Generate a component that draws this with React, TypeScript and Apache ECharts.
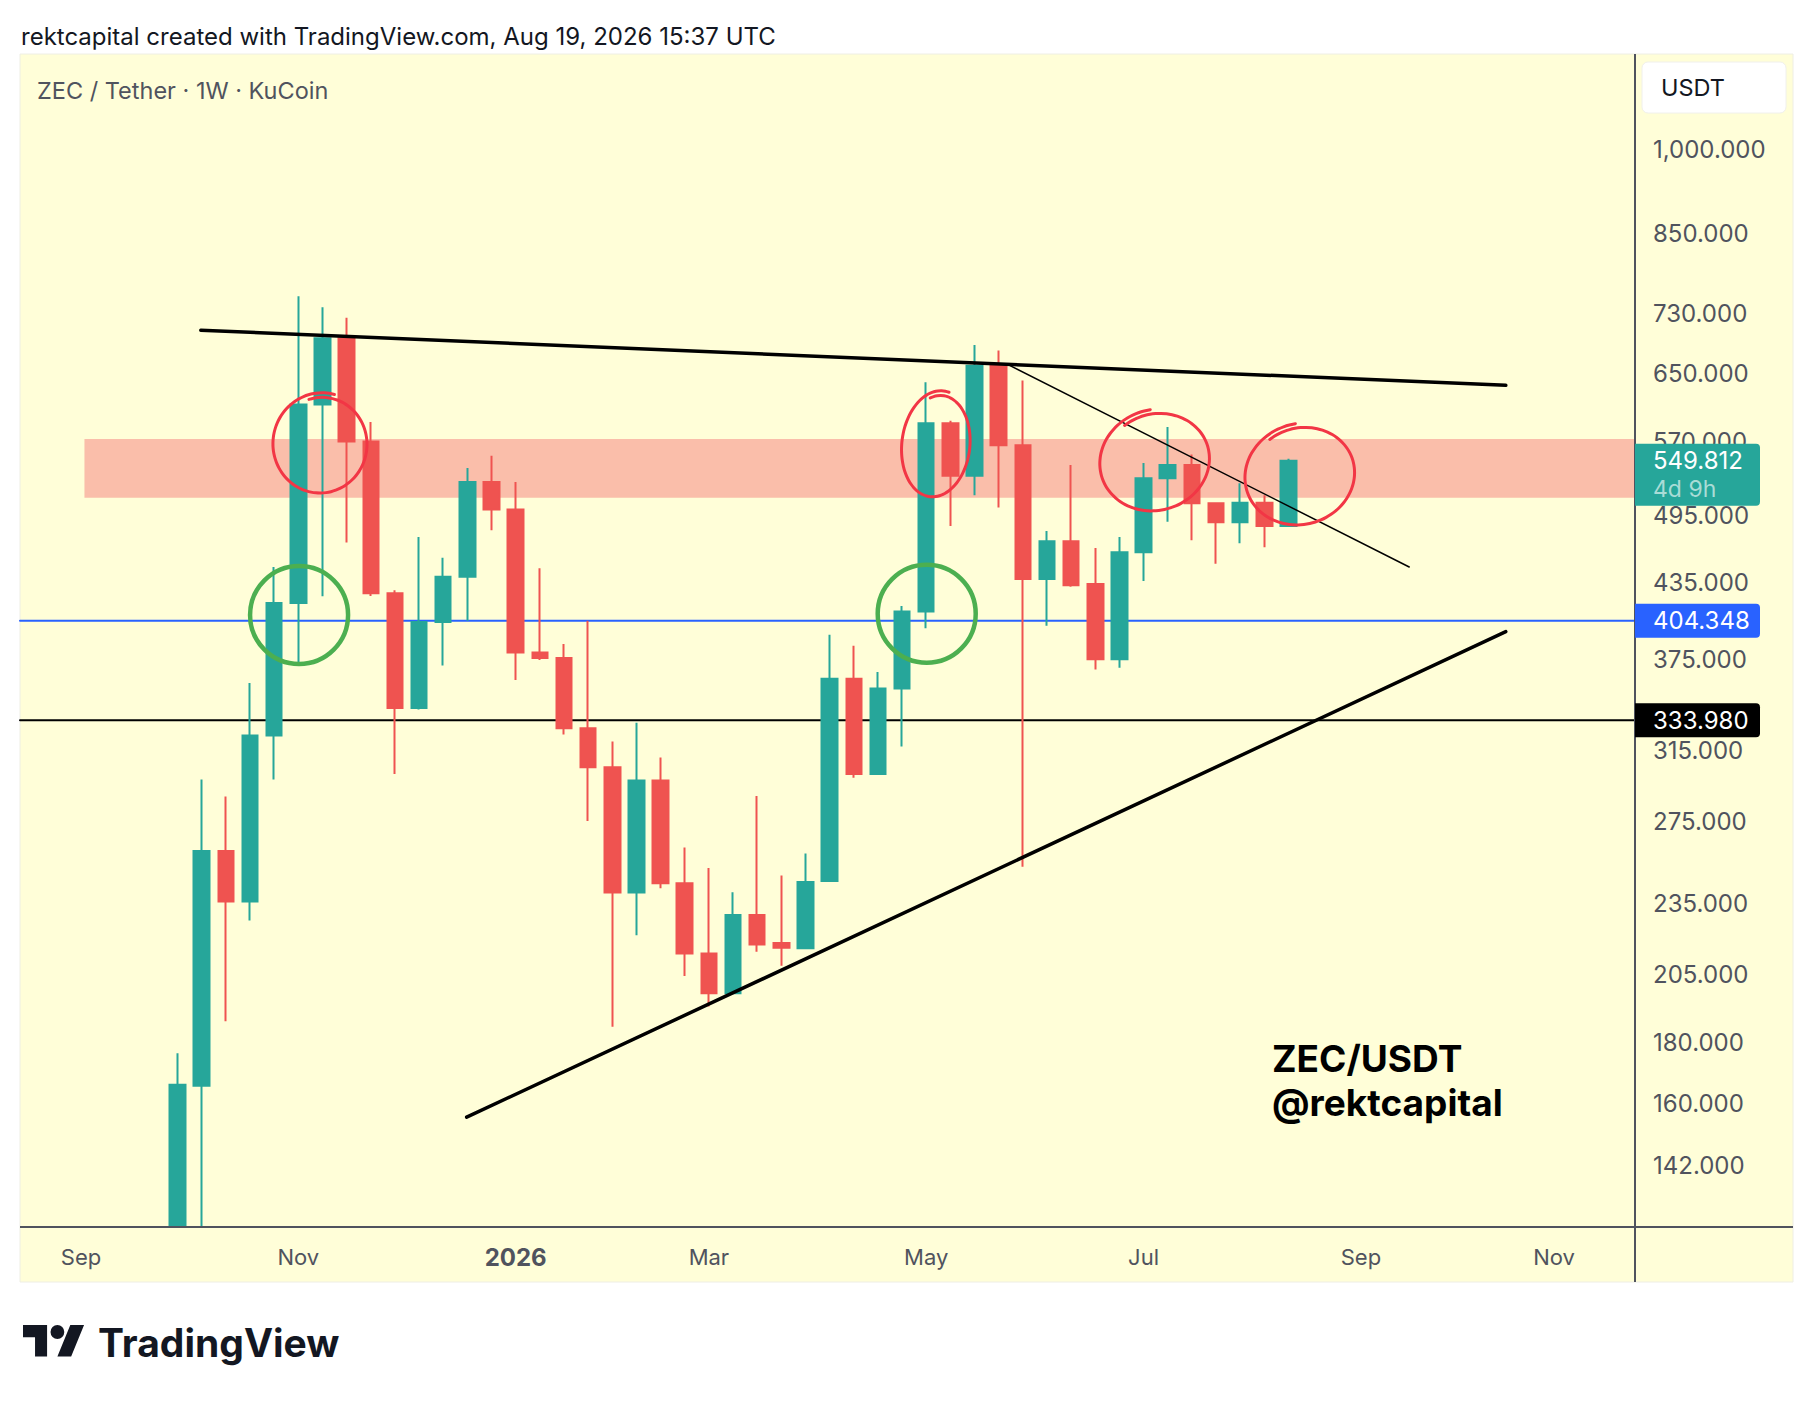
import React, { useEffect, useRef } from 'react';
import * as echarts from 'echarts';

// ---------- data ----------
const EPOCH = Date.UTC(2025, 8, 1); // Monday, Sep 1 2025 = week 0
const toWeek = (d: string) => (Date.parse(d + 'T00:00:00Z') - EPOCH) / (7 * 86400000);

const weeks = [
  '2025-09-29', '2025-10-06', '2025-10-13', '2025-10-20', '2025-10-27', '2025-11-03', '2025-11-10',
  '2025-11-17', '2025-11-24', '2025-12-01', '2025-12-08', '2025-12-15', '2025-12-22', '2025-12-29',
  '2026-01-05', '2026-01-12', '2026-01-19', '2026-01-26', '2026-02-02', '2026-02-09', '2026-02-16',
  '2026-02-23', '2026-03-02', '2026-03-09', '2026-03-16', '2026-03-23', '2026-03-30', '2026-04-06',
  '2026-04-13', '2026-04-20', '2026-04-27', '2026-05-04', '2026-05-11', '2026-05-18', '2026-05-25',
  '2026-06-01', '2026-06-08', '2026-06-15', '2026-06-22', '2026-06-29', '2026-07-06', '2026-07-13',
  '2026-07-20', '2026-07-27', '2026-08-03', '2026-08-10', '2026-08-17',
];
const opens = [
  70, 165.5, 259.8, 235.8, 324.3, 418.3, 612.6, 695.5, 570.4, 426.3, 341.9, 403.4, 440, 527.9,
  500.7, 380.3, 376.3, 328.9, 305.1, 239.9, 297.4, 244.2, 213.4, 197.7, 229.7, 217.7, 215.5, 245.2,
  361.7, 301.2, 355, 411.5, 590.8, 534.1, 660.5, 566.4, 438, 470.9, 433.9, 375.5, 461.1, 531.6,
  545.4, 506.6, 488.5, 507.2, 485,
];
const closes = [
  165.8, 259.8, 235.8, 324.3, 418.3, 612.6, 695.5, 570.4, 426.3, 341.9, 403.4, 440, 527.9, 500.7,
  380.3, 376.3, 328.9, 305.1, 239.9, 297.4, 244.2, 213.4, 197.7, 229.7, 217.1, 215.7, 244.8, 361.7,
  301.2, 355, 411.5, 590.8, 534.1, 659.7, 566.4, 438, 470.9, 432.9, 375.5, 461.1, 531.6, 545.4,
  506.6, 488.5, 507.2, 485, 549.812,
];
const lows = [
  66, 118, 187.3, 227.3, 298, 371.5, 423.8, 469.8, 424, 301.2, 341, 371, 404.3, 481,
  360.8, 375, 325, 275.2, 185.4, 221, 241.9, 204.3, 192.7, 197.7, 214.1, 208.4, 215.5, 245.2,
  299.1, 301.2, 317.5, 398.6, 485, 514.4, 502.5, 252, 400.5, 431.6, 368.1, 369.4, 436.4, 489,
  472, 451, 469.3, 465.5, 485,
];
const highs = [
  176.2, 298, 288.4, 358.7, 448.3, 754, 738.3, 723.7, 592.2, 428.8, 474.8, 456.4, 542.3, 555.2,
  527.9, 447.3, 386.6, 404.3, 320.6, 332.4, 310.9, 261.6, 251.4, 240, 288.7, 247.9, 258.6, 393.6,
  385.3, 366.4, 415.9, 639.2, 593.6, 686.6, 679.4, 641.5, 480.4, 545.4, 464.9, 474.8, 547.3, 586.7,
  556.5, 506.6, 526.6, 514.4, 551.9,
];

const priceTicks = [1000, 850, 730, 650, 570, 495, 435, 375, 315, 275, 235, 205, 180, 160, 142];
const monthTickDates = ['2025-09-01', '2025-11-03', '2026-01-05', '2026-03-02', '2026-05-04', '2026-07-06', '2026-09-07', '2026-11-02'];
const monthTickLabels = ['Sep', 'Nov', '2026', 'Mar', 'May', 'Jul', 'Sep', 'Nov'];

const lastPrice = 549.812;
const lastCountdown = '4d 9h';
const blueLevel = 404.348;
const blackLevel = 333.98;
const zoneStart = '2025-09-02';
const zoneHigh = 573.2;
const zoneLow = 512.1;

// trend lines: [week index, price]
const upperTrend = [[4.96, 706.4], [59.0, 635.5]];
const lowerTrend = [[15.97, 155.8], [59.0, 395.9]];
const thinTrend = [[38.33, 662.2], [55.0, 448.3]];
// annotation anchors: [week index, price]
const greenCircles = [[9.03, 408.8], [35.02, 409.8]];
const redCircles = [[9.94, 567.7], [35.43, 566.7], [44.51, 549.5], [50.52, 534.9]];

// ---------- layout / style ----------
const W = 1814;
const H = 1402;
const GRID_L = 20;
const GRID_R = 1635;
const GRID_T = 54;
const GRID_B = 1227;
const PANEL_R = 1793;
const PANEL_B = 1282;
const X_MIN = -2.526;
const X_MAX = 64.35;
const Y_MIN = Math.log(126.17);
const Y_MAX = Math.log(1200.9);
const FONT = 'Inter, "Noto Sans", sans-serif';
const UP = '#26A69A';
const DOWN = '#EF5350';
const AXIS_TEXT = '#50535E';

const redShapes = [
  { rx: 47, ry: 49, rot: 0.1 },
  { rx: 34, ry: 52, rot: 0.12 },
  { rx: 55, ry: 49, rot: -0.3 },
  { rx: 55, ry: 49, rot: -0.3 },
];

echarts.graphic.registerShape(
  'tvlogo',
  echarts.graphic.extendPath('M14 22H7V11H0V4h14v18zM28 22h-8l7.5-18h8L28 22zM24 8a4 4 0 1 1 -8 0a4 4 0 1 1 8 0z', {})
);

const fmtPrice = (v: number) =>
  v.toLocaleString('en-US', { minimumFractionDigits: 3, maximumFractionDigits: 3 });
// log price, held inside the visible window (the candlestick series does not clip partially)
const lp = (p: number) => Math.min(Math.max(Math.log(p), Y_MIN), Y_MAX);

function buildOption(): any {
  const candleData = weeks.map((d, i) => [toWeek(d), lp(opens[i]), lp(closes[i]), lp(lows[i]), lp(highs[i])]);
  const monthWeeks = monthTickDates.map(toWeek);
  const lineSeries = (name: string, pts: number[][], color: string, width: number, z: number) => ({
    name,
    type: 'line',
    data: pts.map(([x, p]) => [x, Math.log(p)]),
    symbol: 'none',
    silent: true,
    z,
    lineStyle: { color, width, cap: 'round' },
  });
  return {
    animation: false,
    backgroundColor: '#FFFFFF',
    textStyle: { fontFamily: FONT },
    grid: { left: GRID_L, right: W - GRID_R, top: GRID_T, bottom: H - GRID_B, containLabel: false },
    xAxis: {
      type: 'value',
      min: X_MIN,
      max: X_MAX,
      axisLine: { show: false },
      axisTick: { show: false },
      splitLine: { show: false },
      axisLabel: {
        customValues: monthWeeks,
        margin: 19,
        fontSize: 22,
        lineHeight: 22,
        color: AXIS_TEXT,
        fontFamily: FONT,
        formatter: (v: number) => {
          const i = monthWeeks.findIndex((m) => Math.abs(m - v) < 0.01);
          const t = i >= 0 ? monthTickLabels[i] : '';
          return /^\d{4}$/.test(t) ? '{b|' + t + '}' : t;
        },
        rich: { b: { fontWeight: 'bold', fontSize: 24, lineHeight: 22, color: AXIS_TEXT, fontFamily: FONT } },
      },
    },
    yAxis: {
      type: 'value',
      position: 'right',
      min: Y_MIN,
      max: Y_MAX,
      axisLine: { show: false },
      axisTick: { show: false },
      splitLine: { show: false },
      axisLabel: {
        customValues: priceTicks.map((p) => Math.log(p)),
        margin: 18,
        fontSize: 24,
        color: AXIS_TEXT,
        fontFamily: FONT,
        align: 'left',
        formatter: (v: number) => fmtPrice(Math.round(Math.exp(v))),
      },
    },
    series: [
      {
        name: 'zone',
        type: 'custom',
        z: 1,
        silent: true,
        clip: true,
        data: [[toWeek(zoneStart), Math.log(zoneHigh), Math.log(zoneLow)]],
        renderItem: (params: any, api: any) => {
          const a = api.coord([api.value(0), api.value(1)]);
          const b = api.coord([api.value(0), api.value(2)]);
          const right = params.coordSys.x + params.coordSys.width;
          return {
            type: 'rect',
            shape: { x: a[0], y: a[1], width: right - a[0], height: b[1] - a[1] },
            style: { fill: '#FABEAA' },
          };
        },
      },
      lineSeries('level-blue', [[X_MIN, blueLevel], [X_MAX, blueLevel]], '#2962FF', 2, 1),
      lineSeries('level-black', [[X_MIN, blackLevel], [X_MAX, blackLevel]], '#000000', 2, 1),
      {
        name: 'ZEC/USDT',
        type: 'candlestick',
        z: 3,
        clip: true,
        silent: true,
        barWidth: 16,
        encode: { x: 0, y: [1, 2, 3, 4] },
        data: candleData,
        itemStyle: { color: UP, color0: DOWN, borderColor: UP, borderColor0: DOWN, borderWidth: 2 },
      },
      lineSeries('upper', upperTrend, '#000000', 3.5, 4),
      lineSeries('lower', lowerTrend, '#000000', 3.5, 4),
      lineSeries('thin', thinTrend, '#000000', 1.5, 4),
      {
        name: 'green-circles',
        type: 'custom',
        z: 5,
        silent: true,
        data: greenCircles.map(([x, p]) => [x, Math.log(p)]),
        renderItem: (params: any, api: any) => {
          const c = api.coord([api.value(0), api.value(1)]);
          return {
            type: 'ellipse',
            shape: { cx: c[0], cy: c[1], rx: 49, ry: 49 },
            style: { fill: 'none', stroke: '#4CAF50', lineWidth: 4.5 },
          };
        },
      },
      {
        name: 'red-circles',
        type: 'custom',
        z: 5,
        silent: true,
        data: redCircles.map(([x, p]) => [x, Math.log(p)]),
        renderItem: (params: any, api: any) => {
          const c = api.coord([api.value(0), api.value(1)]);
          const s = redShapes[params.dataIndex];
          const pts: number[][] = [];
          const n = 64;
          const a0 = -1.95;
          const span = Math.PI * 2 + 0.55;
          for (let k = 0; k <= n; k++) {
            const t = k / n;
            const a = a0 + span * t;
            const r = 0.95 + 0.1 * t;
            const ex = s.rx * r * Math.cos(a);
            const ey = s.ry * r * Math.sin(a);
            const cr = Math.cos(s.rot);
            const sr = Math.sin(s.rot);
            pts.push([c[0] + ex * cr - ey * sr, c[1] + ex * sr + ey * cr]);
          }
          return {
            type: 'polyline',
            shape: { points: pts, smooth: 0.3 },
            style: { fill: 'none', stroke: '#F23645', lineWidth: 3, lineJoin: 'round', lineCap: 'round' },
          };
        },
      },
    ],
  };
}

function text(id: string, x: number, y: number, str: string, size: number, color: string, weight: any = 'normal', z = 60, lineHeight?: number): any {
  return {
    id,
    type: 'text',
    x,
    y,
    z,
    silent: true,
    style: {
      text: str,
      fontSize: size,
      fontFamily: FONT,
      fontWeight: weight,
      fill: color,
      lineHeight,
      align: 'left',
      verticalAlign: 'middle',
      textAlign: 'left',
      textVerticalAlign: 'middle',
    },
  };
}

function buildGraphics(chart: any): any[] {
  const py = (p: number) => chart.convertToPixel({ yAxisIndex: 0 }, Math.log(p)) as number;
  const boxW = 125;
  const yLast = py(lastPrice);
  const yBlue = py(blueLevel);
  const yBlack = py(blackLevel);
  const box = (id: string, y: number, h: number, fill: string) => ({
    id,
    type: 'rect',
    z: 70,
    silent: true,
    shape: { x: GRID_R, y, width: boxW, height: h, r: [0, 4, 4, 0] },
    style: { fill },
  });
  return [
    {
      id: 'panel',
      type: 'rect',
      z: -10,
      silent: true,
      shape: { x: GRID_L, y: GRID_T, width: PANEL_R - GRID_L, height: PANEL_B - GRID_T },
      style: { fill: '#FFFED8', stroke: '#EEEEE4', lineWidth: 1 },
    },
    {
      id: 'vaxis',
      type: 'line',
      z: 50,
      silent: true,
      shape: { x1: GRID_R, y1: GRID_T, x2: GRID_R, y2: PANEL_B },
      style: { stroke: AXIS_TEXT, lineWidth: 2 },
    },
    {
      id: 'haxis',
      type: 'line',
      z: 50,
      silent: true,
      shape: { x1: GRID_L, y1: GRID_B, x2: PANEL_R, y2: GRID_B },
      style: { stroke: AXIS_TEXT, lineWidth: 2 },
    },
    {
      id: 'usdtBox',
      type: 'rect',
      z: 55,
      silent: true,
      shape: { x: 1642, y: 62, width: 144, height: 51, r: 6 },
      style: { fill: '#FFFFFF', stroke: '#F0F0EC', lineWidth: 1 },
    },
    text('usdt', 1661, 87, 'USDT', 23.5, '#131722'),
    text('header', 21, 36, 'rektcapital created with TradingView.com, Aug 19, 2026 15:37 UTC', 24, '#131722'),
    text('title', 37, 90, 'ZEC / Tether · 1W · KuCoin', 23.5, AXIS_TEXT),
    text('wm1', 1272, 1058, 'ZEC/USDT', 37, '#000000', 'bold', 60, 37),
    text('wm2', 1272, 1102, '@rektcapital', 37, '#000000', 'bold', 60, 37),
    {
      id: 'logo',
      type: 'tvlogo',
      x: 23,
      y: 1318,
      scaleX: 1.72,
      scaleY: 1.75,
      z: 60,
      silent: true,
      style: { fill: '#131722' },
    },
    text('wordmark', 98, 1342, 'TradingView', 39, '#131722', 'bold'),
    box('lastBox', yLast - 17, 62, UP),
    text('lastTxt', 1653, yLast, fmtPrice(lastPrice), 24, '#FFFFFF', 'normal', 71),
    text('lastCd', 1653, yLast + 28, lastCountdown, 23, '#A9DCD6', 'normal', 71),
    box('blueBox', yBlue - 17, 34, '#2962FF'),
    text('blueTxt', 1653, yBlue, fmtPrice(blueLevel), 24, '#FFFFFF', 'normal', 71),
    box('blackBox', yBlack - 17, 34, '#000000'),
    text('blackTxt', 1653, yBlack, fmtPrice(blackLevel), 24, '#FFFFFF', 'normal', 71),
  ];
}

export default function App() {
  const ref = useRef<HTMLDivElement>(null);
  useEffect(() => {
    if (!ref.current) return;
    const chart = echarts.init(ref.current, undefined, { renderer: 'svg' });
    chart.setOption(buildOption());
    chart.setOption({ graphic: buildGraphics(chart) });
    return () => chart.dispose();
  }, []);
  return <div ref={ref} style={{ position: 'absolute', left: 0, top: 0, width: W, height: H }} />;
}
